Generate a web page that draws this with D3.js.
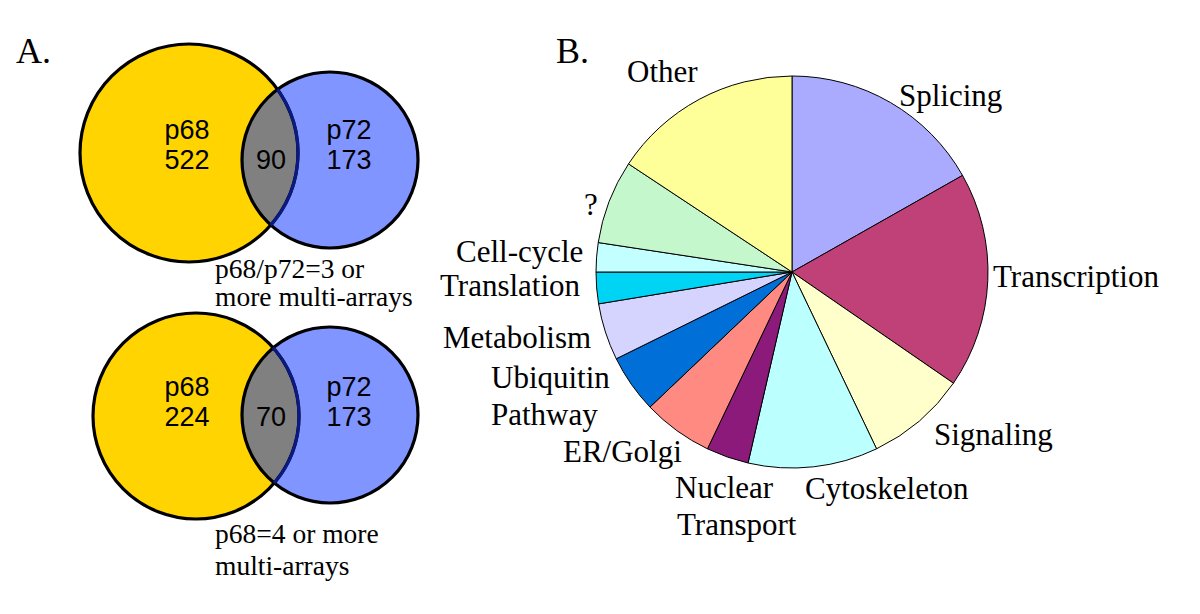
<!DOCTYPE html>
<html>
<head>
<meta charset="utf-8">
<script src="https://cdn.jsdelivr.net/npm/d3@7"></script>
<style>
  html, body { margin: 0; padding: 0; background: #fff; }
  svg { display: block; }
</style>
</head>
<body>
<svg id="chart" width="1200" height="614"></svg>
<script>
// ---------------- DATA ----------------
// Panel A: Venn diagrams
const vennTitles = [["p68/p72=3 or", "more multi-arrays"], ["p68=4 or more", "multi-arrays"]];
const vennLeftName = ["p68", "p68"];
const vennLeftOnly = [522, 224];
const vennOverlap = [90, 70];
const vennRightName = ["p72", "p72"];
const vennRightOnly = [173, 173];

// Panel B: pie chart (percent of genes)
const pieCategories = ["Splicing", "Transcription", "Signaling", "Cytoskeleton", "Nuclear Transport",
  "ER/Golgi", "Ubiquitin Pathway", "Metabolism", "Translation", "Cell-cycle", "?", "Other"];
const pieValues = [16.8, 17.8, 8.3, 10.7, 3.5, 5.8, 4.8, 4.7, 2.6, 2.4, 6.9, 15.7];

// ---------------- LAYOUT / STYLE ----------------
const pieColors = ["#aaaaff", "#bf4177", "#ffffcc", "#bbffff", "#8b1a7b", "#ff8a82",
  "#0070d8", "#d4d4ff", "#00d4f4", "#c4ffff", "#c4f8cc", "#ffff99"];
// label anchors: [x, y(baseline)] per line
const pieLabelLayout = {
  "Splicing": [[899, 106]],
  "Transcription": [[993, 287]],
  "Signaling": [[934, 445]],
  "Cytoskeleton": [[805, 499]],
  "Nuclear Transport": [[675, 498], [677, 535]],
  "ER/Golgi": [[563, 462]],
  "Ubiquitin Pathway": [[491, 388], [491, 425]],
  "Metabolism": [[443, 348]],
  "Translation": [[440, 296]],
  "Cell-cycle": [[456, 262]],
  "?": [[584, 215]],
  "Other": [[627, 82]]
};
const vennLayout = [
  { c1: [189, 153], r1: 109, c2: [330, 160], r2: 88, textY: [139, 169], capX: 215, capY: [278, 306] },
  { c1: [196, 416], r1: 103, c2: [330, 415], r2: 88, textY: [396, 426], capX: 215, capY: [543, 575] }
];

const svg = d3.select("#chart");
const serif = "'Liberation Serif', 'Times New Roman', serif";
const sans = "'Liberation Sans', Arial, sans-serif";

// Panel labels
svg.append("text").attr("x", 16).attr("y", 63).attr("font-family", serif).attr("font-size", 36).text("A.");
svg.append("text").attr("x", 556).attr("y", 63).attr("font-family", serif).attr("font-size", 36).text("B.");

// ---------------- VENN ----------------
function intersections(c1, r1, c2, r2) {
  const dx = c2[0] - c1[0], dy = c2[1] - c1[1];
  const d = Math.hypot(dx, dy);
  const a = (r1 * r1 - r2 * r2 + d * d) / (2 * d);
  const h = Math.sqrt(r1 * r1 - a * a);
  const mx = c1[0] + a * dx / d, my = c1[1] + a * dy / d;
  const p1 = [mx + h * dy / d, my - h * dx / d];
  const p2 = [mx - h * dy / d, my + h * dx / d];
  return p1[1] < p2[1] ? [p1, p2] : [p2, p1];
}

vennLayout.forEach((L, i) => {
  const g = svg.append("g");
  const [top, bot] = intersections(L.c1, L.r1, L.c2, L.r2);
  g.append("circle").attr("cx", L.c1[0]).attr("cy", L.c1[1]).attr("r", L.r1).attr("fill", "#ffd400");
  g.append("circle").attr("cx", L.c2[0]).attr("cy", L.c2[1]).attr("r", L.r2).attr("fill", "#8095ff");
  const lens = `M${top[0]},${top[1]} A${L.r1},${L.r1} 0 0 1 ${bot[0]},${bot[1]} A${L.r2},${L.r2} 0 0 1 ${top[0]},${top[1]}Z`;
  g.append("path").attr("d", lens).attr("fill", "#808080");
  g.append("circle").attr("cx", L.c1[0]).attr("cy", L.c1[1]).attr("r", L.r1)
    .attr("fill", "none").attr("stroke", "#000").attr("stroke-width", 3.2);
  g.append("circle").attr("cx", L.c2[0]).attr("cy", L.c2[1]).attr("r", L.r2)
    .attr("fill", "none").attr("stroke", "#000").attr("stroke-width", 3.2);
  g.append("path").attr("d", `M${top[0]},${top[1]} A${L.r1},${L.r1} 0 0 1 ${bot[0]},${bot[1]}`)
    .attr("fill", "none").attr("stroke", "#0a1a80").attr("stroke-width", 3.2);

  const lx = 187, ox = 271, rx = 349;
  const t = (x, y, s) => g.append("text").attr("x", x).attr("y", y).attr("text-anchor", "middle")
    .attr("font-family", sans).attr("font-size", 27).attr("fill", "#000").text(s);
  t(lx, L.textY[0], vennLeftName[i]);
  t(lx, L.textY[1], vennLeftOnly[i]);
  t(ox, L.textY[1], vennOverlap[i]);
  t(rx, L.textY[0], vennRightName[i]);
  t(rx, L.textY[1], vennRightOnly[i]);

  vennTitles[i].forEach((line, k) => {
    g.append("text").attr("x", L.capX).attr("y", L.capY[k]).attr("font-family", serif)
      .attr("font-size", 27.5).attr("fill", "#000").text(line);
  });
});

// ---------------- PIE ----------------
const cx = 792, cy = 272, R = 196;
const pie = d3.pie().sort(null).value(d => d)(pieValues);
const arc = d3.arc().innerRadius(0).outerRadius(R);
const color = d3.scaleOrdinal().domain(pieCategories).range(pieColors);
const pg = svg.append("g").attr("transform", `translate(${cx},${cy})`);
pg.selectAll("path").data(pie).join("path")
  .attr("d", arc)
  .attr("fill", (d, i) => color(pieCategories[i]))
  .attr("stroke", "#000").attr("stroke-width", 1).attr("stroke-linejoin", "round");

pieCategories.forEach(cat => {
  const words = cat === "Nuclear Transport" ? ["Nuclear", "Transport"]
    : cat === "Ubiquitin Pathway" ? ["Ubiquitin", "Pathway"] : [cat];
  pieLabelLayout[cat].forEach((p, k) => {
    svg.append("text").attr("x", p[0]).attr("y", p[1]).attr("font-family", serif)
      .attr("font-size", 31).attr("fill", "#000").text(words[k]);
  });
});
</script>
</body>
</html>
